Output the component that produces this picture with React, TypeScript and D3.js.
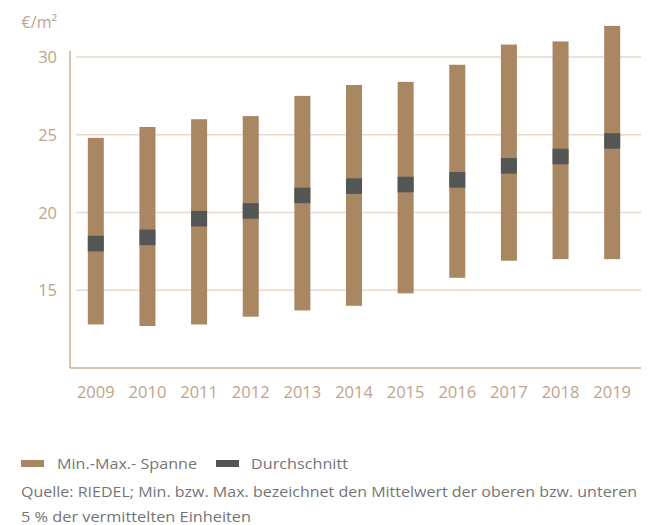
import React from "react";
import * as d3 from "d3";

const years = ["2009", "2010", "2011", "2012", "2013", "2014", "2015", "2016", "2017", "2018", "2019"];
const minValues = [12.8, 12.7, 12.8, 13.3, 13.7, 14.0, 14.8, 15.8, 16.9, 17.0, 17.0];
const maxValues = [24.8, 25.5, 26.0, 26.2, 27.5, 28.2, 28.4, 29.5, 30.8, 31.0, 32.0];
const avgValues = [18.0, 18.4, 19.6, 20.1, 21.1, 21.7, 21.8, 22.1, 23.0, 23.6, 24.6];
const yTicks = [15, 20, 25, 30];

const W = 649;
const H = 525;
const BROWN = "#a98762";
const DARK = "#545655";
const GRID = "#ead9ca";
const AXIS = "#c9ae96";
const LABEL = "#bfa38b";
const TEXT = "#757575";
const FONT = "'Open Sans', sans-serif";

export default function App() {
  const x = d3.scaleBand<string>().domain(years).range([70, 638]).paddingInner(0.69).paddingOuter(0.345);
  const y = d3.scaleLinear().domain([10, 30]).range([368, 57]);
  const bw = x.bandwidth();
  const cx = (yr: string) => (x(yr) as number) + bw / 2;

  return (
    <svg width={W} height={H} style={{ position: "absolute", left: 0, top: 0, background: "#fff" }}>
      <text x={57} y={28} textAnchor="end" fontFamily={FONT} fontSize={16} fill={LABEL}>€/m²</text>
      {yTicks.map((t) => (
        <g key={t}>
          <line x1={76} x2={641} y1={y(t)} y2={y(t)} stroke={GRID} strokeWidth={1.3} />
          <text x={57} y={y(t) + 6} textAnchor="end" fontFamily={FONT} fontSize={16.5} fill={LABEL}>{t}</text>
        </g>
      ))}
      <line x1={70} x2={70} y1={51} y2={368} stroke={AXIS} strokeWidth={1.5} />
      <line x1={70} x2={641} y1={368} y2={368} stroke={AXIS} strokeWidth={1.5} />
      {years.map((yr, i) => (
        <g key={yr}>
          <rect x={x(yr)} y={y(maxValues[i])} width={bw} height={y(minValues[i]) - y(maxValues[i])} fill={BROWN} />
          <rect x={x(yr)} y={y(avgValues[i] + 0.5)} width={bw} height={y(avgValues[i] - 0.5) - y(avgValues[i] + 0.5)} fill={DARK} />
          <text x={cx(yr)} y={398} textAnchor="middle" fontFamily={FONT} fontSize={16.5} fill={LABEL}>{yr}</text>
        </g>
      ))}
      <rect x={21} y={460} width={23} height={7} fill={BROWN} />
      <text x={57} y={469} fontFamily={FONT} fontSize={14.5} fill={TEXT} textLength={140} lengthAdjust="spacingAndGlyphs">Min.-Max.- Spanne</text>
      <rect x={216} y={460} width={23} height={7} fill={DARK} />
      <text x={251} y={469} fontFamily={FONT} fontSize={14.5} fill={TEXT} textLength={97} lengthAdjust="spacingAndGlyphs">Durchschnitt</text>
      <text x={21} y={497} fontFamily={FONT} fontSize={14.5} fill={TEXT} textLength={616} lengthAdjust="spacingAndGlyphs">Quelle: RIEDEL; Min. bzw. Max. bezeichnet den Mittelwert der oberen bzw. unteren</text>
      <text x={21} y={522} fontFamily={FONT} fontSize={14.5} fill={TEXT} textLength={230} lengthAdjust="spacingAndGlyphs">5 % der vermittelten Einheiten</text>
    </svg>
  );
}
